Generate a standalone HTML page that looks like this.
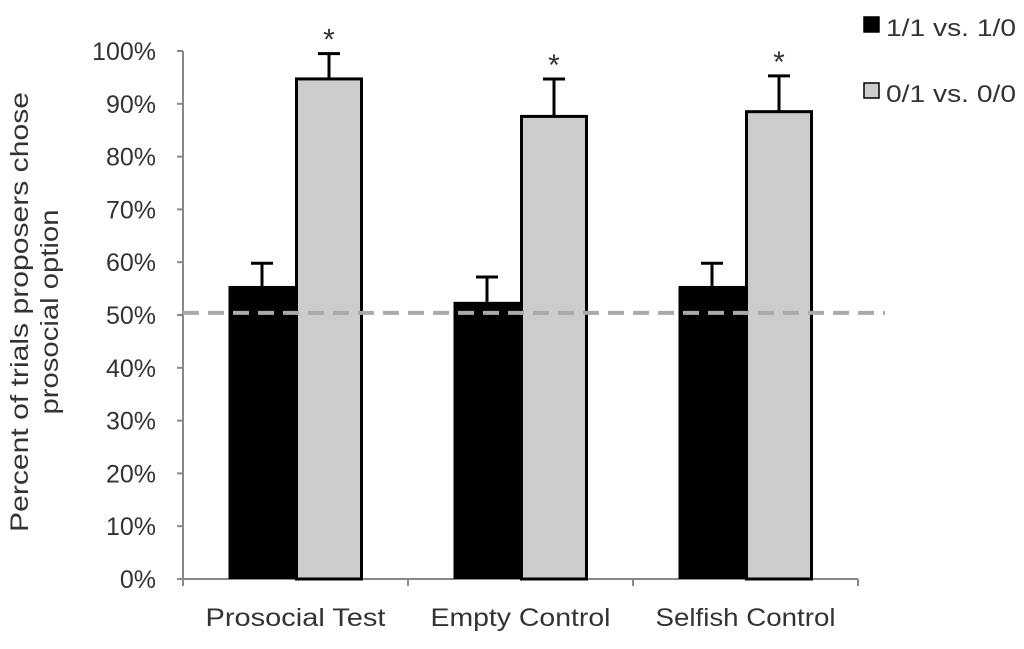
<!DOCTYPE html>
<html><head><meta charset="utf-8"><style>
body{margin:0;background:#fff;width:1024px;height:644px;overflow:hidden}
svg text{font-family:"Liberation Sans",sans-serif;fill:#333}
</style></head><body>
<svg id="chart" width="1024" height="644" xmlns="http://www.w3.org/2000/svg"></svg>
<script>
const categories=["Prosocial Test","Empty Control","Selfish Control"];
const seriesNames=["1/1 vs. 1/0","0/1 vs. 0/0"];
const blackValues=[55.5,52.5,55.5];
const blackErrors=[4.3,4.7,4.3];
const grayValues=[94.9,87.8,88.7];
const grayErrors=[4.6,6.9,6.6];
const yTicks=[0,10,20,30,40,50,60,70,80,90,100];
const chanceLevel=50.4;
const stars=["*","*","*"];

const NS="http://www.w3.org/2000/svg";
const svg=document.getElementById('chart');
const x0=183,groupW=225,y0=579,yTop=51;
const y=v=>y0-(y0-yTop)*v/100;
const bw=67;
function mk(t,a,p){const e=document.createElementNS(NS,t);for(const k in a)e.setAttribute(k,a[k]);(p||svg).appendChild(e);return e;}

const axis=mk('g',{});


mk('line',{x1:x0,y1:yTop,x2:x0,y2:y0,stroke:'#888','stroke-width':2},axis);
yTicks.forEach(t=>{
  mk('line',{x1:x0-6,y1:y(t),x2:x0,y2:y(t),stroke:'#888','stroke-width':2},axis);
  const tx=mk('text',{x:156,y:y(t)+9,'text-anchor':'end','font-size':25},axis);
  tx.textContent=t+'%';
  
  
});
const xa=mk('g',{});


mk('line',{x1:x0,y1:y0,x2:x0+groupW*categories.length,y2:y0,stroke:'#888','stroke-width':2},xa);
for(let i=0;i<=categories.length;i++)mk('line',{x1:x0+groupW*i,y1:y0,x2:x0+groupW*i,y2:y0+7,stroke:'#888','stroke-width':2},xa);

categories.forEach((c,i)=>{
  const cx=x0+groupW*i+groupW/2;
  const g=mk('g',{});
  
  
  [[blackValues[i],blackErrors[i],cx-bw/2],[grayValues[i],grayErrors[i],cx+bw/2]].forEach(([v,e,bx])=>{
    mk('line',{x1:bx,y1:y(v),x2:bx,y2:y(v+e),stroke:'#000','stroke-width':3},g);
    mk('line',{x1:bx-11,y1:y(v+e),x2:bx+11,y2:y(v+e),stroke:'#000','stroke-width':3},g);
  });
  const b=mk('rect',{x:cx-bw,y:y(blackValues[i]),width:bw,height:y0-y(blackValues[i]),fill:'#000'},g);
  
  
  const gr=mk('rect',{x:cx+1,y:y(grayValues[i])+1,width:bw-2,height:y0-y(grayValues[i])-1,fill:'#ccc',stroke:'#000','stroke-width':3},g);
  
  
  const s=mk('text',{x:cx+bw/2,y:y(grayValues[i]+grayErrors[i])-4,'text-anchor':'middle','font-size':30,'font-family':'Liberation Serif'},g);
  s.textContent=stars[i];
  
  
  const l=mk('text',{x:cx,y:626,'text-anchor':'middle','font-size':25,textLength:180,lengthAdjust:'spacingAndGlyphs'},g);
  l.textContent=c;
  
  
});
const dl=mk('line',{x1:x0,y1:y(chanceLevel),x2:885,y2:y(chanceLevel),stroke:'#aaa','stroke-width':4,'stroke-dasharray':'16,9'});



const yt=mk('text',{x:0,y:0,'text-anchor':'middle','font-size':25,transform:'translate(38,312) rotate(-90)'});


const t1=mk('tspan',{x:0,dy:-10,textLength:440,lengthAdjust:'spacingAndGlyphs'},yt);t1.textContent='Percent of trials proposers chose';
const t2=mk('tspan',{x:0,dy:30,textLength:205,lengthAdjust:'spacingAndGlyphs'},yt);t2.textContent='prosocial option';

const fills=['#000','#ccc'];
seriesNames.forEach((n,i)=>{
  const g=mk('g',{});
  
  
  const yy=17+i*66;
  mk('rect',{x:864,y:yy,width:15,height:15,fill:fills[i],stroke:'#000','stroke-width':1.5},g);
  const t=mk('text',{x:886,y:yy+19,'font-size':24,textLength:130,lengthAdjust:'spacingAndGlyphs'},g);t.textContent=n;
});
</script>
</body></html>
